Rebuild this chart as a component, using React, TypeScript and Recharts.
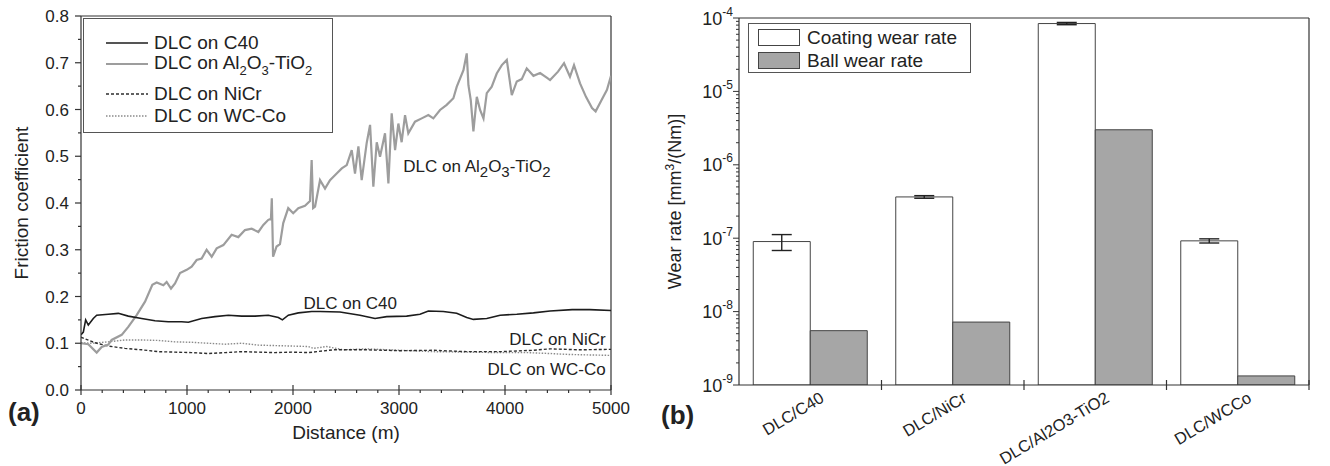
import React from 'react';
import {
  LineChart,
  Line,
  BarChart,
  Bar,
  XAxis,
  YAxis,
  CartesianGrid,
  Legend,
  ReferenceDot,
  ErrorBar,
  Label
} from 'recharts';

const FONT = '"Liberation Sans", Arial, Helvetica, sans-serif';
const INK = '#222';
const AXIS = '#333';

// ---- (a) friction coefficient vs distance, [distance m, friction]
const frictionC40: [number, number][] = [
  [0, 0.118], [22, 0.124], [44, 0.15], [69, 0.139], [116, 0.153], [148, 0.16], [258, 0.162],
  [352, 0.164], [446, 0.158], [572, 0.153], [698, 0.148], [823, 0.146], [949, 0.146],
  [1013, 0.145], [1138, 0.153], [1264, 0.157], [1390, 0.16], [1516, 0.158], [1642, 0.158],
  [1767, 0.16], [1862, 0.155], [1900, 0.15], [1956, 0.16], [2050, 0.165], [2176, 0.168],
  [2255, 0.168], [2443, 0.167], [2632, 0.16], [2774, 0.153], [2884, 0.157], [3072, 0.158],
  [3198, 0.162], [3277, 0.169], [3418, 0.168], [3544, 0.164], [3639, 0.155], [3702, 0.151],
  [3828, 0.153], [3954, 0.16], [4111, 0.162], [4268, 0.165], [4425, 0.169], [4634, 0.172],
  [4800, 0.172], [5000, 0.17]
];

const frictionAl2O3: [number, number][] = [
  [0, 0.1], [69, 0.098], [148, 0.08], [195, 0.092], [258, 0.097], [289, 0.107], [384, 0.118],
  [446, 0.135], [525, 0.16], [604, 0.189], [673, 0.225], [714, 0.23], [777, 0.224], [808, 0.231],
  [849, 0.217], [887, 0.228], [934, 0.25], [997, 0.257], [1044, 0.264], [1091, 0.278],
  [1138, 0.281], [1185, 0.3], [1233, 0.285], [1280, 0.303], [1343, 0.31], [1421, 0.332],
  [1484, 0.327], [1547, 0.342], [1610, 0.345], [1673, 0.338], [1720, 0.353], [1767, 0.364],
  [1792, 0.366], [1800, 0.41], [1812, 0.285], [1845, 0.307], [1877, 0.312], [1908, 0.357],
  [1955, 0.389], [2002, 0.378], [2050, 0.389], [2113, 0.394], [2160, 0.404], [2176, 0.492],
  [2190, 0.389], [2208, 0.392], [2255, 0.449], [2302, 0.431], [2349, 0.449], [2412, 0.463],
  [2460, 0.474], [2507, 0.481], [2554, 0.513], [2585, 0.463], [2617, 0.521], [2648, 0.449],
  [2695, 0.528], [2727, 0.567], [2758, 0.435], [2790, 0.53], [2821, 0.499], [2868, 0.549],
  [2900, 0.442], [2931, 0.592], [2963, 0.513], [2994, 0.57], [3025, 0.53], [3057, 0.588],
  [3088, 0.549], [3151, 0.574], [3214, 0.581], [3277, 0.588], [3324, 0.581], [3387, 0.599],
  [3450, 0.61], [3513, 0.624], [3545, 0.649], [3608, 0.684], [3639, 0.72], [3655, 0.652],
  [3677, 0.62], [3702, 0.553], [3734, 0.627], [3765, 0.599], [3797, 0.581], [3828, 0.635],
  [3875, 0.649], [3922, 0.677], [3970, 0.695], [4017, 0.706], [4064, 0.631], [4111, 0.66],
  [4158, 0.665], [4205, 0.688], [4268, 0.672], [4331, 0.678], [4394, 0.668], [4425, 0.663],
  [4500, 0.681], [4557, 0.699], [4613, 0.67], [4651, 0.695], [4708, 0.656], [4764, 0.627],
  [4821, 0.603], [4855, 0.596], [4910, 0.62], [4962, 0.642], [5000, 0.672]
];

const frictionNiCr: [number, number][] = [
  [0, 0.113], [132, 0.101], [258, 0.094], [415, 0.089], [572, 0.086], [729, 0.082],
  [887, 0.081], [1044, 0.08], [1201, 0.078], [1359, 0.08], [1516, 0.082], [1673, 0.081],
  [1830, 0.08], [1988, 0.081], [2145, 0.08], [2380, 0.086], [2695, 0.086], [3009, 0.084],
  [3324, 0.085], [3639, 0.082], [3954, 0.082], [4268, 0.085], [4425, 0.088], [4700, 0.086],
  [5000, 0.087]
];

const frictionWCCo: [number, number][] = [
  [0, 0.101], [101, 0.1], [258, 0.103], [415, 0.107], [572, 0.107], [729, 0.106], [887, 0.103],
  [1044, 0.102], [1201, 0.1], [1359, 0.098], [1516, 0.1], [1673, 0.096], [1830, 0.095],
  [1988, 0.094], [2145, 0.093], [2192, 0.089], [2317, 0.093], [2475, 0.086], [2695, 0.088],
  [3009, 0.085], [3324, 0.082], [3639, 0.081], [3954, 0.08], [4205, 0.08], [4425, 0.078],
  [4600, 0.076], [4800, 0.075], [5000, 0.074]
];

// "_2" marks a subscript digit
const frictionNames = ['DLC on C40', 'DLC on Al_2O_3-TiO_2', 'DLC on NiCr', 'DLC on WC-Co'];
const distanceMajorTicks = [0, 1000, 2000, 3000, 4000, 5000];
const frictionMajorTicks = [0, 0.1, 0.2, 0.3, 0.4, 0.5, 0.6, 0.7, 0.8];

// ---- (b) wear rates
const wearCategories = ['DLC/C40', 'DLC/NiCr', 'DLC/Al2O3-TiO2', 'DLC/WCCo'];
const coatingRate = [9.0e-8, 3.65e-7, 8.4e-5, 9.2e-8];
const coatingErr = [2.2e-8, 0.15e-7, 0.3e-5, 0.6e-8];
const ballRate = [5.5e-9, 7.2e-9, 3.0e-6, 1.33e-9];
const wearNames = ['Coating wear rate', 'Ball wear rate'];
const wearDecades = [1e-9, 1e-8, 1e-7, 1e-6, 1e-5, 1e-4];

const toPoints = (pairs: [number, number][]) => pairs.map(([d, f]) => ({ d, f }));

const frictionSeries = [
  { name: frictionNames[0], data: toPoints(frictionC40), stroke: '#1c1c1c', width: 1.6, dash: undefined },
  { name: frictionNames[1], data: toPoints(frictionAl2O3), stroke: '#9d9d9d', width: 2.2, dash: undefined },
  { name: frictionNames[2], data: toPoints(frictionNiCr), stroke: '#2e2e2e', width: 1.4, dash: '3 2' },
  { name: frictionNames[3], data: toPoints(frictionWCCo), stroke: '#8a8a8a', width: 1.4, dash: '1.5 1.5' }
];

const distanceTicks: number[] = [];
for (let v = 0; v <= 5000; v += 200) distanceTicks.push(v);
const frictionTicks: number[] = [];
frictionMajorTicks.forEach((t, i) => {
  frictionTicks.push(t);
  if (i < frictionMajorTicks.length - 1) frictionTicks.push(t + 0.05);
});

const wearData = wearCategories.map((name, i) => ({
  name,
  coating: coatingRate[i],
  coatingErr: coatingErr[i],
  ball: ballRate[i]
}));
const wearTicks: number[] = [];
wearDecades.forEach((d, i) => {
  wearTicks.push(d);
  if (i < wearDecades.length - 1) for (let k = 2; k <= 9; k++) wearTicks.push(k * d);
});

const splitSub = (s: string) =>
  s.split(/(_\d)/).filter(Boolean).map((p) => (p.startsWith('_') ? { t: p.slice(1), sub: true } : { t: p, sub: false }));

const svgChem = (s: string, subSize: number, drop: number) => {
  let down = false;
  return splitSub(s).map((p, i) => {
    let dy = 0;
    if (p.sub && !down) { dy = drop; down = true; }
    if (!p.sub && down) { dy = -drop; down = false; }
    return (
      <tspan key={i} dy={dy} fontSize={p.sub ? subSize : undefined}>{p.t}</tspan>
    );
  });
};

const htmlChem = (s: string) =>
  splitSub(s).map((p, i) =>
    p.sub ? (
      <span key={i} style={{ fontSize: 13, position: 'relative', top: 6 }}>{p.t}</span>
    ) : (
      <span key={i}>{p.t}</span>
    )
  );

// ---------- (a) ----------
const L_W = 660;
const L_H = 466;

const DistanceTick = (props: any) => {
  const { x, y, payload } = props;
  const major = payload.value % 1000 === 0;
  return (
    <g>
      <line x1={x} x2={x} y1={major ? y - 5 : y} y2={y + (major ? 5 : 3)} stroke={AXIS} strokeWidth={1.2} />
      {major && (
        <text x={x} y={y + 24} textAnchor="middle" fontSize={17} fontFamily={FONT} fill={INK}>
          {payload.value}
        </text>
      )}
    </g>
  );
};

const FrictionTick = (props: any) => {
  const { x, y, payload } = props;
  const v = payload.value as number;
  const major = Math.abs(v * 10 - Math.round(v * 10)) < 1e-6;
  return (
    <g>
      <line x1={x - (major ? 6 : 3)} x2={x} y1={y} y2={y} stroke={AXIS} strokeWidth={1.2} />
      {major && (
        <text x={x - 12} y={y + 6} textAnchor="end" fontSize={17} fontFamily={FONT} fill={INK}>
          {v.toFixed(1)}
        </text>
      )}
    </g>
  );
};

const annotation = (text: string, anchor: 'start' | 'middle' | 'end') => (props: any) => {
  const vb = props.viewBox || {};
  const x = (vb.x || 0) + (vb.width || 0) / 2;
  const y = (vb.y || 0) + (vb.height || 0) / 2;
  return (
    <text x={x} y={y} textAnchor={anchor} fontSize={17} fontFamily={FONT} fill={INK}>
      {svgChem(text, 15, 5)}
    </text>
  );
};

const FrictionLegend = () => (
  <div
    style={{
      width: 250,
      height: 115,
      boxSizing: 'border-box',
      border: '1.5px solid #555',
      background: '#fff',
      position: 'relative',
      fontFamily: FONT,
      fontSize: 19,
      color: INK
    }}
  >
    {frictionSeries.map((s, i) => (
      <div
        key={s.name}
        style={{ position: 'absolute', left: 22, top: [13, 34, 64, 86][i], height: 22, display: 'flex', alignItems: 'center', whiteSpace: 'nowrap' }}
      >
        <svg width={42} height={10} style={{ display: 'block' }}>
          <line x1={0} x2={42} y1={5} y2={5} stroke={s.stroke} strokeWidth={s.width} strokeDasharray={s.dash} />
        </svg>
        <span style={{ marginLeft: 6, lineHeight: '22px' }}>{htmlChem(s.name)}</span>
      </div>
    ))}
  </div>
);

const FrictionChart = () => (
  <LineChart width={L_W} height={L_H} margin={{ top: 16, right: 49, bottom: 0, left: 0 }}>
    <CartesianGrid
      stroke={AXIS}
      strokeWidth={1.2}
      horizontalCoordinatesGenerator={(p: any) => [p.offset.top]}
      verticalCoordinatesGenerator={(p: any) => [p.offset.left + p.offset.width]}
    />
    <XAxis
      dataKey="d"
      type="number"
      domain={[0, 5000]}
      allowDataOverflow
      ticks={distanceTicks}
      interval={0}
      height={76}
      tickSize={0}
      tickMargin={0}
      tickLine={false}
      tick={<DistanceTick />}
      axisLine={{ stroke: AXIS, strokeWidth: 1.2 }}
    >
      <Label
        content={(p: any) => {
          const vb = p.viewBox || { x: 81, y: 390, width: 530 };
          return (
            <g fontFamily={FONT} fill={INK}>
              <text x={vb.x + vb.width / 2} y={vb.y + 49} textAnchor="middle" fontSize={19}>Distance (m)</text>
              <text x={8} y={421} fontSize={26} fontWeight="bold">(a)</text>
            </g>
          );
        }}
      />
    </XAxis>
    <YAxis
      type="number"
      domain={[0, 0.8]}
      allowDataOverflow
      ticks={frictionTicks}
      interval={0}
      width={81}
      tickSize={0}
      tickMargin={0}
      tickLine={false}
      tick={<FrictionTick />}
      axisLine={{ stroke: AXIS, strokeWidth: 1.2 }}
    >
      <Label
        content={(p: any) => {
          const vb = p.viewBox || { y: 16, height: 374 };
          const cy = vb.y + vb.height / 2;
          return (
            <text x={28} y={cy} transform={`rotate(-90, 28, ${cy})`} textAnchor="middle" fontSize={19} fontFamily={FONT} fill={INK}>
              Friction coefficient
            </text>
          );
        }}
      />
    </YAxis>
    {[3, 2, 1, 0].map((i) => {
      const s = frictionSeries[i];
      return (
        <Line
          key={s.name}
          data={s.data}
          dataKey="f"
          name={s.name}
          type="linear"
          stroke={s.stroke}
          strokeWidth={s.width}
          strokeDasharray={s.dash}
          dot={false}
          activeDot={false}
          isAnimationActive={false}
        />
      );
    })}
    <ReferenceDot x={3040} y={0.466} r={0} fill="none" stroke="none" label={{ content: annotation(frictionNames[1], 'start') }} />
    <ReferenceDot x={2540} y={0.174} r={0} fill="none" stroke="none" label={{ content: annotation(frictionNames[0], 'middle') }} />
    <ReferenceDot x={4950} y={0.096} r={0} fill="none" stroke="none" label={{ content: annotation(frictionNames[2], 'end') }} />
    <ReferenceDot x={4950} y={0.032} r={0} fill="none" stroke="none" label={{ content: annotation(frictionNames[3], 'end') }} />
    <Legend
      layout="horizontal"
      verticalAlign="middle"
      align="center"
      content={<FrictionLegend />}
      wrapperStyle={{ left: 83, top: 18, width: 250, height: 115 }}
    />
  </LineChart>
);

// ---------- (b) ----------
const R_W = 670;
const R_H = 466;
const R_MARGIN = { top: 18, right: 21, bottom: 0, left: 0 };
const R_YAXIS_W = 79;
const BAND_HALF = (R_W - R_MARGIN.right - R_YAXIS_W) / wearCategories.length / 2;

const CategoryTick = (props: any) => {
  const { x, y, payload } = props;
  const tx = x + 15;
  const ty = y + 16;
  return (
    <g>
      <line x1={x + BAND_HALF} x2={x + BAND_HALF} y1={y - 5} y2={y + 5} stroke={AXIS} strokeWidth={1.2} />
      <text x={tx} y={ty} transform={`rotate(-31, ${tx}, ${ty})`} textAnchor="end" fontSize={16.5} fontFamily={FONT} fill={INK}>
        {payload.value}
      </text>
    </g>
  );
};

const WearTick = (props: any) => {
  const { x, y, payload } = props;
  const v = payload.value as number;
  const lg = Math.log10(v);
  const major = Math.abs(lg - Math.round(lg)) < 1e-6;
  return (
    <g>
      <line x1={x - (major ? 6 : 3)} x2={x} y1={y} y2={y} stroke={AXIS} strokeWidth={1} />
      {major && (
        <text x={x - 6} y={y + 6.5} textAnchor="end" fontSize={18} fontFamily={FONT} fill={INK}>
          <tspan>10</tspan>
          <tspan dy={-9} fontSize={12}>{String(Math.round(lg))}</tspan>
        </text>
      )}
    </g>
  );
};

const WearLegend = () => (
  <div
    style={{
      width: 223,
      height: 50,
      boxSizing: 'border-box',
      border: '1.5px solid #555',
      background: '#fff',
      position: 'relative',
      fontFamily: FONT,
      fontSize: 19,
      color: INK
    }}
  >
    {wearNames.map((n, i) => (
      <div key={n} style={{ position: 'absolute', left: 9, top: 4 + i * 23, height: 19, display: 'flex', alignItems: 'center', whiteSpace: 'nowrap' }}>
        <span
          style={{
            display: 'inline-block',
            width: 42,
            height: 17,
            boxSizing: 'border-box',
            border: '1px solid #444',
            background: i === 0 ? '#fff' : '#a6a6a6'
          }}
        />
        <span style={{ marginLeft: 7, lineHeight: '19px' }}>{n}</span>
      </div>
    ))}
  </div>
);

const WearChart = () => (
  <BarChart
    width={R_W}
    height={R_H}
    data={wearData}
    margin={R_MARGIN}
    barCategoryGap="10%"
    barGap={0}
  >
    <CartesianGrid
      stroke={AXIS}
      strokeWidth={1.2}
      horizontalCoordinatesGenerator={(p: any) => [p.offset.top]}
      verticalCoordinatesGenerator={(p: any) => [p.offset.left + p.offset.width]}
    />
    <XAxis
      dataKey="name"
      type="category"
      interval={0}
      height={81}
      tickSize={0}
      tickMargin={0}
      tickLine={false}
      tick={<CategoryTick />}
      axisLine={{ stroke: AXIS, strokeWidth: 1.2 }}
    >
      <Label
        content={() => (
          <text x={1} y={424} fontSize={26} fontWeight="bold" fontFamily={FONT} fill={INK}>(b)</text>
        )}
      />
    </XAxis>
    <YAxis
      type="number"
      scale="log"
      domain={[1e-9, 1e-4]}
      allowDataOverflow
      ticks={wearTicks}
      interval={0}
      width={R_YAXIS_W}
      tickSize={0}
      tickMargin={0}
      tickLine={false}
      tick={<WearTick />}
      axisLine={{ stroke: AXIS, strokeWidth: 1.2 }}
    >
      <Label
        content={(p: any) => {
          const vb = p.viewBox || { y: 18, height: 367 };
          const cy = vb.y + vb.height / 2;
          return (
            <text x={21} y={cy} transform={`rotate(-90, 21, ${cy})`} textAnchor="middle" fontSize={18} fontFamily={FONT} fill={INK}>
              <tspan>Wear rate [mm</tspan>
              <tspan dy={-7} fontSize={12}>3</tspan>
              <tspan dy={7}>/(Nm)]</tspan>
            </text>
          );
        }}
      />
    </YAxis>
    <Bar dataKey="coating" name={wearNames[0]} fill="#ffffff" stroke="#444" strokeWidth={1} isAnimationActive={false}>
      <ErrorBar dataKey="coatingErr" width={10} stroke="#222" strokeWidth={1.4} direction="y" />
    </Bar>
    <Bar dataKey="ball" name={wearNames[1]} fill="#a6a6a6" stroke="#444" strokeWidth={1} isAnimationActive={false} />
    <Legend
      layout="horizontal"
      verticalAlign="middle"
      align="center"
      content={<WearLegend />}
      wrapperStyle={{ left: 88, top: 23, width: 223, height: 50 }}
    />
  </BarChart>
);

export default function App() {
  return (
    <div style={{ position: 'absolute', left: 0, top: 0, width: 1330, height: 466, background: '#fff', overflow: 'hidden' }}>
      <div style={{ position: 'absolute', left: 0, top: 0 }}>
        <FrictionChart />
      </div>
      <div style={{ position: 'absolute', left: 660, top: 0 }}>
        <WearChart />
      </div>
    </div>
  );
}
